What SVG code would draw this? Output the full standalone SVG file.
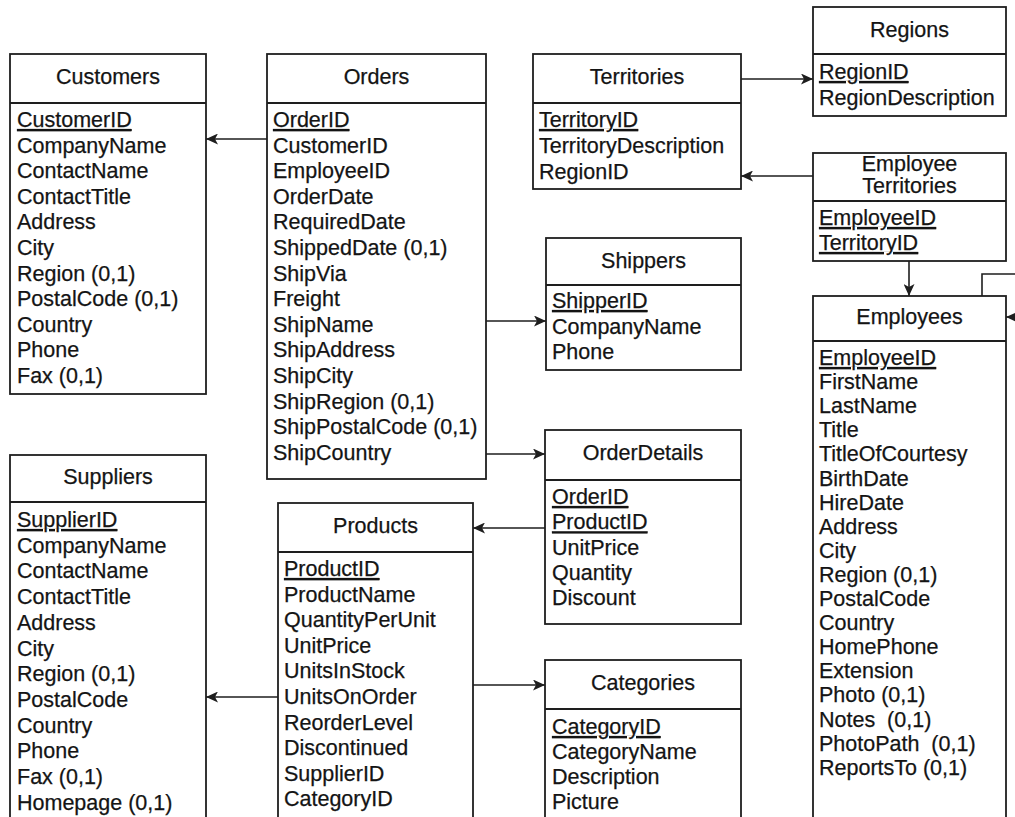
<svg xmlns="http://www.w3.org/2000/svg" width="1015" height="817" viewBox="0 0 1015 817">
<style>
.box{fill:#fff;stroke:#1e1e1e;stroke-width:1.8}
.div{stroke:#1e1e1e;stroke-width:1.8}
text{font-family:"Liberation Sans",Arial,sans-serif;font-size:21.5px;fill:#141414;stroke:#141414;stroke-width:0.25}
.t{text-anchor:middle}
.pk{text-decoration:underline}
.c{fill:none;stroke:#1e1e1e;stroke-width:1.6}
</style>
<defs>
<marker id="a" markerUnits="userSpaceOnUse" markerWidth="12" markerHeight="11" viewBox="0 0 12 11" refX="12" refY="5.5" orient="auto">
<path d="M0,0 L12,5.5 L0,11 L3,5.5 Z" fill="#1e1e1e"/>
</marker>
</defs>
<rect width="1015" height="817" fill="#fff"/>
<g id="connectors">
<path class="c" d="M267,139 H206" marker-end="url(#a)"/>
<path class="c" d="M741,79 H813" marker-end="url(#a)"/>
<path class="c" d="M813,176 H741" marker-end="url(#a)"/>
<path class="c" d="M909,261 V296" marker-end="url(#a)"/>
<path class="c" d="M982,296 V274 H1030 V317 H1006" marker-end="url(#a)"/>
<path class="c" d="M486,321 H546" marker-end="url(#a)"/>
<path class="c" d="M486,454 H545" marker-end="url(#a)"/>
<path class="c" d="M545,528 H473" marker-end="url(#a)"/>
<path class="c" d="M473,685 H545" marker-end="url(#a)"/>
<path class="c" d="M278,697 H206" marker-end="url(#a)"/>
</g>
<g id="customers">
<rect class="box" x="10" y="54" width="196" height="340"/>
<line class="div" x1="10" y1="103" x2="206" y2="103"/>
<text class="t" x="108" y="84">Customers</text>
<text x="17" y="127" class="pk">CustomerID</text>
<text x="17" y="152.6">CompanyName</text>
<text x="17" y="178.2">ContactName</text>
<text x="17" y="203.8">ContactTitle</text>
<text x="17" y="229.4">Address</text>
<text x="17" y="255">City</text>
<text x="17" y="280.6">Region (0,1)</text>
<text x="17" y="306.2">PostalCode (0,1)</text>
<text x="17" y="331.8">Country</text>
<text x="17" y="357.4">Phone</text>
<text x="17" y="383">Fax (0,1)</text>
</g>
<g id="orders">
<rect class="box" x="267" y="54" width="219" height="425"/>
<line class="div" x1="267" y1="103" x2="486" y2="103"/>
<text class="t" x="376.5" y="84">Orders</text>
<text x="273" y="127" class="pk">OrderID</text>
<text x="273" y="152.6">CustomerID</text>
<text x="273" y="178.2">EmployeeID</text>
<text x="273" y="203.8">OrderDate</text>
<text x="273" y="229.4">RequiredDate</text>
<text x="273" y="255">ShippedDate (0,1)</text>
<text x="273" y="280.6">ShipVia</text>
<text x="273" y="306.2">Freight</text>
<text x="273" y="331.8">ShipName</text>
<text x="273" y="357.4">ShipAddress</text>
<text x="273" y="383">ShipCity</text>
<text x="273" y="408.6">ShipRegion (0,1)</text>
<text x="273" y="434.2">ShipPostalCode (0,1)</text>
<text x="273" y="459.8">ShipCountry</text>
</g>
<g id="territories">
<rect class="box" x="533" y="54" width="208" height="135"/>
<line class="div" x1="533" y1="103" x2="741" y2="103"/>
<text class="t" x="637" y="84">Territories</text>
<text x="539" y="127" class="pk">TerritoryID</text>
<text x="539" y="153">TerritoryDescription</text>
<text x="539" y="179">RegionID</text>
</g>
<g id="regions">
<rect class="box" x="813" y="7" width="193" height="109"/>
<line class="div" x1="813" y1="54" x2="1006" y2="54"/>
<text class="t" x="909.5" y="37">Regions</text>
<text x="819" y="79" class="pk">RegionID</text>
<text x="819" y="105">RegionDescription</text>
</g>
<g id="employee-territories">
<rect class="box" x="813" y="153" width="193" height="108"/>
<line class="div" x1="813" y1="201" x2="1006" y2="201"/>
<text class="t" x="909.5" y="171">Employee</text>
<text class="t" x="909.5" y="193">Territories</text>
<text x="819" y="225" class="pk">EmployeeID</text>
<text x="819" y="250" class="pk">TerritoryID</text>
</g>
<g id="shippers">
<rect class="box" x="546" y="238" width="195" height="132"/>
<line class="div" x1="546" y1="285" x2="741" y2="285"/>
<text class="t" x="643.5" y="268">Shippers</text>
<text x="552" y="308" class="pk">ShipperID</text>
<text x="552" y="333.6">CompanyName</text>
<text x="552" y="359.2">Phone</text>
</g>
<g id="employees">
<rect class="box" x="813" y="296" width="193" height="540"/>
<line class="div" x1="813" y1="341" x2="1006" y2="341"/>
<text class="t" x="909.5" y="324">Employees</text>
<text x="819" y="365" class="pk">EmployeeID</text>
<text x="819" y="389.1">FirstName</text>
<text x="819" y="413.2">LastName</text>
<text x="819" y="437.3">Title</text>
<text x="819" y="461.4">TitleOfCourtesy</text>
<text x="819" y="485.5">BirthDate</text>
<text x="819" y="509.6">HireDate</text>
<text x="819" y="533.7">Address</text>
<text x="819" y="557.8">City</text>
<text x="819" y="581.9">Region (0,1)</text>
<text x="819" y="606">PostalCode</text>
<text x="819" y="630.1">Country</text>
<text x="819" y="654.2">HomePhone</text>
<text x="819" y="678.3">Extension</text>
<text x="819" y="702.4">Photo (0,1)</text>
<text x="819" y="726.5">Notes&#160; (0,1)</text>
<text x="819" y="750.6">PhotoPath&#160; (0,1)</text>
<text x="819" y="774.7">ReportsTo (0,1)</text>
</g>
<g id="orderdetails">
<rect class="box" x="545" y="430" width="196" height="194"/>
<line class="div" x1="545" y1="480" x2="741" y2="480"/>
<text class="t" x="643" y="460">OrderDetails</text>
<text x="552" y="504" class="pk">OrderID</text>
<text x="552" y="529.3" class="pk">ProductID</text>
<text x="552" y="554.6">UnitPrice</text>
<text x="552" y="579.9">Quantity</text>
<text x="552" y="605.2">Discount</text>
</g>
<g id="products">
<rect class="box" x="278" y="503" width="195" height="330"/>
<line class="div" x1="278" y1="552" x2="473" y2="552"/>
<text class="t" x="375.5" y="533">Products</text>
<text x="284" y="576" class="pk">ProductID</text>
<text x="284" y="601.6">ProductName</text>
<text x="284" y="627.2">QuantityPerUnit</text>
<text x="284" y="652.8">UnitPrice</text>
<text x="284" y="678.4">UnitsInStock</text>
<text x="284" y="704">UnitsOnOrder</text>
<text x="284" y="729.6">ReorderLevel</text>
<text x="284" y="755.2">Discontinued</text>
<text x="284" y="780.8">SupplierID</text>
<text x="284" y="806.4">CategoryID</text>
</g>
<g id="categories">
<rect class="box" x="545" y="660" width="196" height="175"/>
<line class="div" x1="545" y1="709" x2="741" y2="709"/>
<text class="t" x="643" y="690">Categories</text>
<text x="552" y="734" class="pk">CategoryID</text>
<text x="552" y="759">CategoryName</text>
<text x="552" y="784">Description</text>
<text x="552" y="809">Picture</text>
</g>
<g id="suppliers">
<rect class="box" x="10" y="455" width="196" height="380"/>
<line class="div" x1="10" y1="502" x2="206" y2="502"/>
<text class="t" x="108" y="484">Suppliers</text>
<text x="17" y="527" class="pk">SupplierID</text>
<text x="17" y="552.7">CompanyName</text>
<text x="17" y="578.4">ContactName</text>
<text x="17" y="604.1">ContactTitle</text>
<text x="17" y="629.8">Address</text>
<text x="17" y="655.5">City</text>
<text x="17" y="681.2">Region (0,1)</text>
<text x="17" y="706.9">PostalCode</text>
<text x="17" y="732.6">Country</text>
<text x="17" y="758.3">Phone</text>
<text x="17" y="784">Fax (0,1)</text>
<text x="17" y="809.7">Homepage (0,1)</text>
</g>
</svg>
